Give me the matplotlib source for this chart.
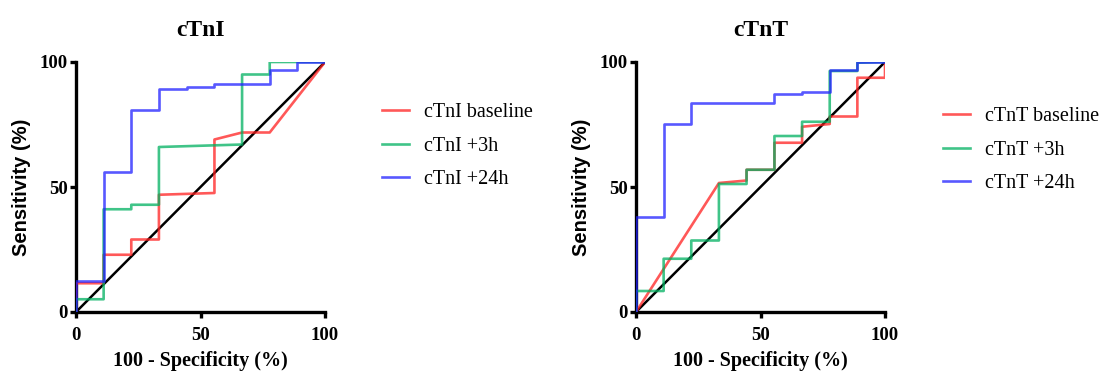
import matplotlib
matplotlib.use("Agg")
import matplotlib.pyplot as plt

# ---- data ----
titles = ["cTnI", "cTnT"]
ticks = [0, 50, 100]
tick_labels = ["0", "50", "100"]

tni_base_x = [0, 0, 11.1, 11.1, 22.2, 22.2, 33.3, 33.3, 55.6, 55.6, 66.7, 77.8, 100]
tni_base_y = [0, 11.5, 11.5, 22.9, 22.9, 29.0, 29.0, 46.9, 47.6, 69.0, 71.8, 71.8, 100]
tni_3h_x = [0, 0, 11.1, 11.1, 22.2, 22.2, 33.3, 33.3, 66.7, 66.7, 77.8, 77.8, 100]
tni_3h_y = [0, 5.1, 5.1, 41.1, 41.1, 42.9, 42.9, 66.0, 67.0, 95.0, 95.0, 100, 100]
tni_24h_x = [0, 0, 11.1, 11.1, 22.2, 22.2, 33.3, 33.3, 44.4, 44.4, 55.6, 55.6, 77.8, 77.8, 88.9, 88.9, 100]
tni_24h_y = [0, 12.4, 12.4, 55.9, 55.9, 80.9, 80.9, 89.2, 89.2, 90.0, 90.0, 91.2, 91.2, 96.8, 96.8, 100, 100]

tnt_base_x = [0, 33.3, 44.4, 44.4, 55.6, 55.6, 66.7, 66.7, 77.8, 77.8, 88.9, 88.9, 100, 100]
tnt_base_y = [0, 51.6, 52.6, 56.9, 56.9, 67.7, 67.7, 74.1, 75.2, 78.2, 78.2, 93.7, 93.7, 100]
tnt_3h_x = [0, 0, 11.1, 11.1, 22.2, 22.2, 33.3, 33.3, 44.4, 44.4, 55.6, 55.6, 66.7, 66.7, 77.8, 77.8, 88.9, 88.9, 100]
tnt_3h_y = [0, 8.4, 8.4, 21.3, 21.3, 28.6, 28.6, 51.2, 51.2, 56.9, 56.9, 70.4, 70.4, 76.1, 76.1, 96.4, 96.4, 99.7, 100]
tnt_24h_x = [0, 0, 11.1, 11.1, 22.2, 22.2, 55.6, 55.6, 66.7, 66.7, 77.8, 77.8, 88.9, 88.9, 100]
tnt_24h_y = [0, 38.1, 38.1, 75.2, 75.2, 83.6, 83.6, 87.3, 87.3, 88.0, 88.0, 96.8, 96.8, 100, 100]

panels = [
    [("cTnI baseline", tni_base_x, tni_base_y),
     ("cTnI +3h", tni_3h_x, tni_3h_y),
     ("cTnI +24h", tni_24h_x, tni_24h_y)],
    [("cTnT baseline", tnt_base_x, tnt_base_y),
     ("cTnT +3h", tnt_3h_x, tnt_3h_y),
     ("cTnT +24h", tnt_24h_x, tnt_24h_y)],
]
colors = ["#FF2020", "#00B060", "#2020FF"]

serif = "Liberation Serif"
sans = "Liberation Sans"

fig = plt.figure(figsize=(11.12, 3.76), dpi=100)
lefts = [76 / 1112, 636 / 1112]
legend_pos = [(382 / 1112, 1 - 103 / 376), (943 / 1112, 1 - 107 / 376)]

for i in range(2):
    ax = fig.add_axes([lefts[i], 1 - 312 / 376, 249 / 1112, 250 / 376])
    ax.plot([0, 100], [0, 100], color="black", lw=1.8, zorder=2)
    for (lab, xs, ys), c in zip(panels[i], colors):
        ax.plot(xs, ys, color=c, lw=1.9, alpha=0.75, label=lab, zorder=3)
    ax.set_xlim(0, 100)
    ax.set_ylim(0, 100)
    ax.set_xticks(ticks)
    ax.set_yticks(ticks)
    ax.set_xticklabels(tick_labels, fontfamily=serif, fontweight="bold", fontsize=13.5)
    ax.set_yticklabels(tick_labels, fontfamily=serif, fontweight="bold", fontsize=13.5)
    for s in ["top", "right"]:
        ax.spines[s].set_visible(False)
    for s in ["left", "bottom"]:
        ax.spines[s].set_linewidth(2.4)
    ax.tick_params(length=4.5, width=2.4)
    ax.tick_params(axis="x", pad=6)
    ax.tick_params(axis="y", pad=1.5)
    ax.set_title(titles[i], fontfamily=serif, fontweight="bold", fontsize=17, pad=19)
    ax.set_xlabel("100 - Specificity (%)", fontfamily=serif, fontweight="bold", fontsize=14.5, labelpad=5)
    ax.set_ylabel("Sensitivity (%)", fontfamily=sans, fontweight="bold", fontsize=14.5, labelpad=6)
    ax.legend(loc="upper left", bbox_to_anchor=legend_pos[i], bbox_transform=fig.transFigure,
              frameon=False, prop={"family": serif, "size": 14.5}, handlelength=1.35,
              labelspacing=0.72, handletextpad=0.75, borderpad=0, borderaxespad=0)

fig.savefig("out.png", dpi=100)
